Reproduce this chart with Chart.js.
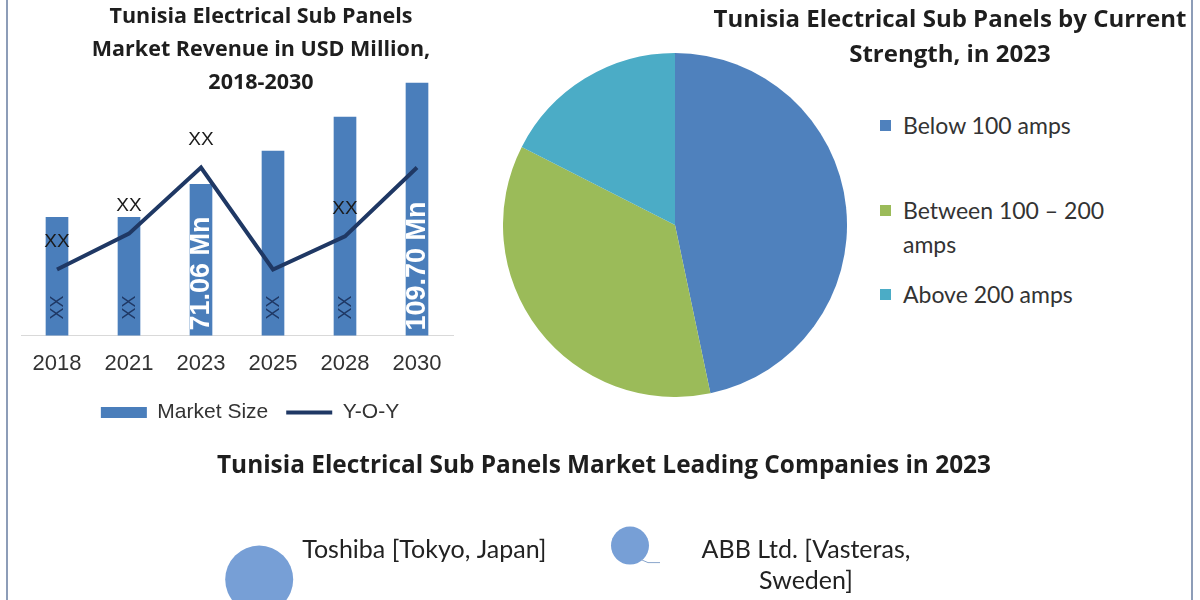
<!DOCTYPE html>
<html>
<head>
<meta charset="utf-8">
<script src="https://cdn.jsdelivr.net/npm/chart.js@4.4.1/dist/chart.umd.min.js"></script>
<style>
  html, body { margin: 0; padding: 0; background: #fff; }
  #page { position: relative; width: 1200px; height: 600px; overflow: hidden; background: #fff; }
  #page::before, #page::after { content: ''; position: absolute; top: 0; bottom: 0; width: 2px; background: #8d9db8; }
  #page::before { left: 6px; }
  #page::after { left: 1191px; }
  .box { position: absolute; }
  .title { position: absolute; font-family: "Open Sans", Lato, sans-serif; font-weight: bold; color: #1e1e1e; text-align: center; white-space: nowrap; }
  #barTitle { left: 61px; width: 400px; top: -2px; font-size: 21.5px; line-height: 33px; }
  #pieTitle { left: 700px; width: 500px; top: 0px; font-size: 24px; line-height: 35px; }
  #bubbleTitle { left: 0; width: 1208px; top: 449px; font-size: 24.4px; line-height: 30px; }
  #pieLegend { position: absolute; left: 880px; top: 108px; font-family: Lato, "Noto Sans", sans-serif; font-size: 23px; color: #333; }
  #pieLegend .item { position: relative; padding-left: 23px; line-height: 34px; }
  #pieLegend .sw { position: absolute; left: 0; top: 12px; width: 11px; height: 11px; }
</style>
</head>
<body>
<div id="page">
  <div class="box" style="left:0;top:0;width:470px;height:436px;"><canvas id="barChart"></canvas></div>
  <div class="box" style="left:503px;top:53px;width:344px;height:344px;"><canvas id="pieChart"></canvas></div>
  <div class="box" style="left:0;top:430px;width:1200px;height:170px;"><canvas id="bubbleChart"></canvas></div>
  <div class="title" id="barTitle">Tunisia Electrical Sub Panels<br>Market Revenue in USD Million,<br>2018-2030</div>
  <div class="title" id="pieTitle">Tunisia Electrical Sub Panels by Current<br>Strength, in 2023</div>
  <div class="title" id="bubbleTitle">Tunisia Electrical Sub Panels Market Leading Companies in 2023</div>
  <div id="pieLegend"></div>
</div>
<script>
// Market revenue bars (USD Mn) and Y-O-Y growth line
const years = ['2018', '2021', '2023', '2025', '2028', '2030'];
const marketSize = [58.4, 58.4, 71.06, 83.7, 96.7, 109.7];
const yoyGrowth = [2.4, 3.7, 6.1, 2.4, 3.6, 6.1];
const barLabels = ['XX', 'XX', '71.06 Mn', 'XX', 'XX', '109.70 Mn'];
const lineLabels = ['XX', 'XX', 'XX', '', 'XX', ''];

// Share by current strength, 2023
const pieLabels = ['Below 100 amps', 'Between 100 \u2013 200 amps', 'Above 200 amps'];
const pieValues = [46.7, 35.8, 17.5];
const pieColors = ['#4f81bd', '#9bbb59', '#4bacc6'];

// Leading companies
const companies = ['Toshiba [Tokyo, Japan]', 'ABB Ltd. [Vasteras, Sweden]'];
const companyX = [21.6, 52.5];
const companyY = [12, 32];
const companySize = [34, 19];

const BLUE = '#4a7ebb';
const NAVY = '#1f3864';

const barLabelPlugin = {
    id: 'barLabels',
    afterLayout(chart) {
        // legend sits a bit right of centre in the original
        chart.legend.left += 13;
        chart.legend.right += 13;
    },
    afterDatasetsDraw(chart) {
        const ctx = chart.ctx;
        const bottom = chart.chartArea.bottom;
        const bars = chart.getDatasetMeta(0).data;
        const points = chart.getDatasetMeta(1).data;
        bars.forEach((bar, i) => {
            const txt = barLabels[i];
            const big = txt !== 'XX';
            ctx.save();
            ctx.translate(bar.x, bottom - (big ? 5 : 16));
            ctx.rotate(-Math.PI / 2);
            ctx.font = big ? 'bold 27px "Liberation Sans"' : '18px "Liberation Sans"';
            ctx.fillStyle = big ? '#ffffff' : NAVY;
            ctx.textAlign = 'left';
            ctx.textBaseline = 'middle';
            ctx.fillText(txt, 0, 1);
            ctx.restore();
        });
        ctx.save();
        ctx.font = '19px "Liberation Sans"';
        ctx.fillStyle = '#1a1a1a';
        ctx.textAlign = 'center';
        ctx.textBaseline = 'middle';
        points.forEach((pt, i) => {
            if (lineLabels[i]) ctx.fillText(lineLabels[i], pt.x, pt.y - 28);
        });
        ctx.restore();
    }
};

new Chart(document.getElementById('barChart'), {
    type: 'bar',
    data: {
        labels: years,
        datasets: [
            {
                label: 'Market Size',
                data: marketSize,
                backgroundColor: BLUE,
                borderWidth: 0,
                barThickness: 22,
                pointStyle: 'rect',
                order: 2
            },
            {
                type: 'line',
                label: 'Y-O-Y',
                data: yoyGrowth,
                yAxisID: 'y2',
                borderColor: NAVY,
                backgroundColor: NAVY,
                borderWidth: 4,
                pointRadius: 0,
                tension: 0,
                pointStyle: 'line',
                order: 1
            }
        ]
    },
    options: {
        responsive: true,
        maintainAspectRatio: false,
        animation: false,
        layout: { padding: { left: 21, right: 17, top: 60, bottom: 3 } },
        plugins: {
            legend: {
                position: 'bottom',
                labels: {
                    sort: (a, b) => a.datasetIndex - b.datasetIndex,
                    usePointStyle: true,
                    pointStyleWidth: 46,
                    boxHeight: 11,
                    padding: 18,
                    color: '#333',
                    font: { family: '"Liberation Sans"', size: 21 }
                }
            },
            tooltip: { enabled: false }
        },
        scales: {
            x: {
                grid: { display: false },
                border: { display: true, color: '#d9d9d9', width: 1 },
                ticks: { color: '#333', padding: 7, font: { family: '"Liberation Sans"', size: 22 } }
            },
            y: { display: false, min: 13.3, max: 118.5 },
            y2: { display: false, min: 0, max: 10 }
        }
    },
    plugins: [barLabelPlugin]
});

new Chart(document.getElementById('pieChart'), {
    type: 'pie',
    data: {
        labels: pieLabels,
        datasets: [{ data: pieValues, backgroundColor: pieColors, borderWidth: 0 }]
    },
    options: {
        responsive: true,
        maintainAspectRatio: false,
        animation: false,
        plugins: { legend: { display: false }, tooltip: { enabled: false } }
    }
});

// html legend for the pie, wrapped like the original
const legendEl = document.getElementById('pieLegend');
const legendGaps = [0, 51, 16];
pieLabels.forEach((lab, i) => {
    const item = document.createElement('div');
    item.className = 'item';
    item.style.marginTop = legendGaps[i] + 'px';
    item.style.width = i === 1 ? '235px' : '280px';
    item.innerHTML = '<span class="sw" style="background:' + pieColors[i] + '"></span>' + lab;
    legendEl.appendChild(item);
});

const companyLabelPlugin = {
    id: 'companyLabels',
    afterDatasetsDraw(chart) {
        const ctx = chart.ctx;
        const pts = chart.getDatasetMeta(0).data;
        ctx.save();
        ctx.font = '25px Lato';
        ctx.fillStyle = '#222';
        ctx.textBaseline = 'middle';
        // Toshiba: text to the upper right
        ctx.textAlign = 'left';
        ctx.fillText(companies[0], pts[0].x + 43, pts[0].y - 30);
        // ABB: two centred lines to the right
        ctx.textAlign = 'center';
        const parts = companies[1].split(' Sweden');
        ctx.fillText(parts[0], pts[1].x + 176, pts[1].y + 4);
        ctx.fillText('Sweden' + parts[1], pts[1].x + 176, pts[1].y + 35);
        // small leader line
        ctx.strokeStyle = '#8aa6cc';
        ctx.lineWidth = 1;
        ctx.beginPath();
        ctx.moveTo(pts[1].x + 11, pts[1].y + 14);
        ctx.lineTo(pts[1].x + 18, pts[1].y + 17);
        ctx.lineTo(pts[1].x + 30, pts[1].y + 17);
        ctx.stroke();
        ctx.restore();
    }
};

new Chart(document.getElementById('bubbleChart'), {
    type: 'bubble',
    data: {
        datasets: [{
            data: companyX.map((x, i) => ({ x: x, y: companyY[i], r: companySize[i] })),
            backgroundColor: '#779fd6',
            borderWidth: 0,
            clip: false
        }]
    },
    options: {
        responsive: true,
        maintainAspectRatio: false,
        animation: false,
        layout: { padding: 0, autoPadding: false },
        plugins: { legend: { display: false }, tooltip: { enabled: false } },
        scales: {
            x: { display: false, min: 0, max: 100 },
            y: { display: false, min: 0, max: 100 }
        }
    },
    plugins: [companyLabelPlugin]
});
</script>
</body>
</html>
